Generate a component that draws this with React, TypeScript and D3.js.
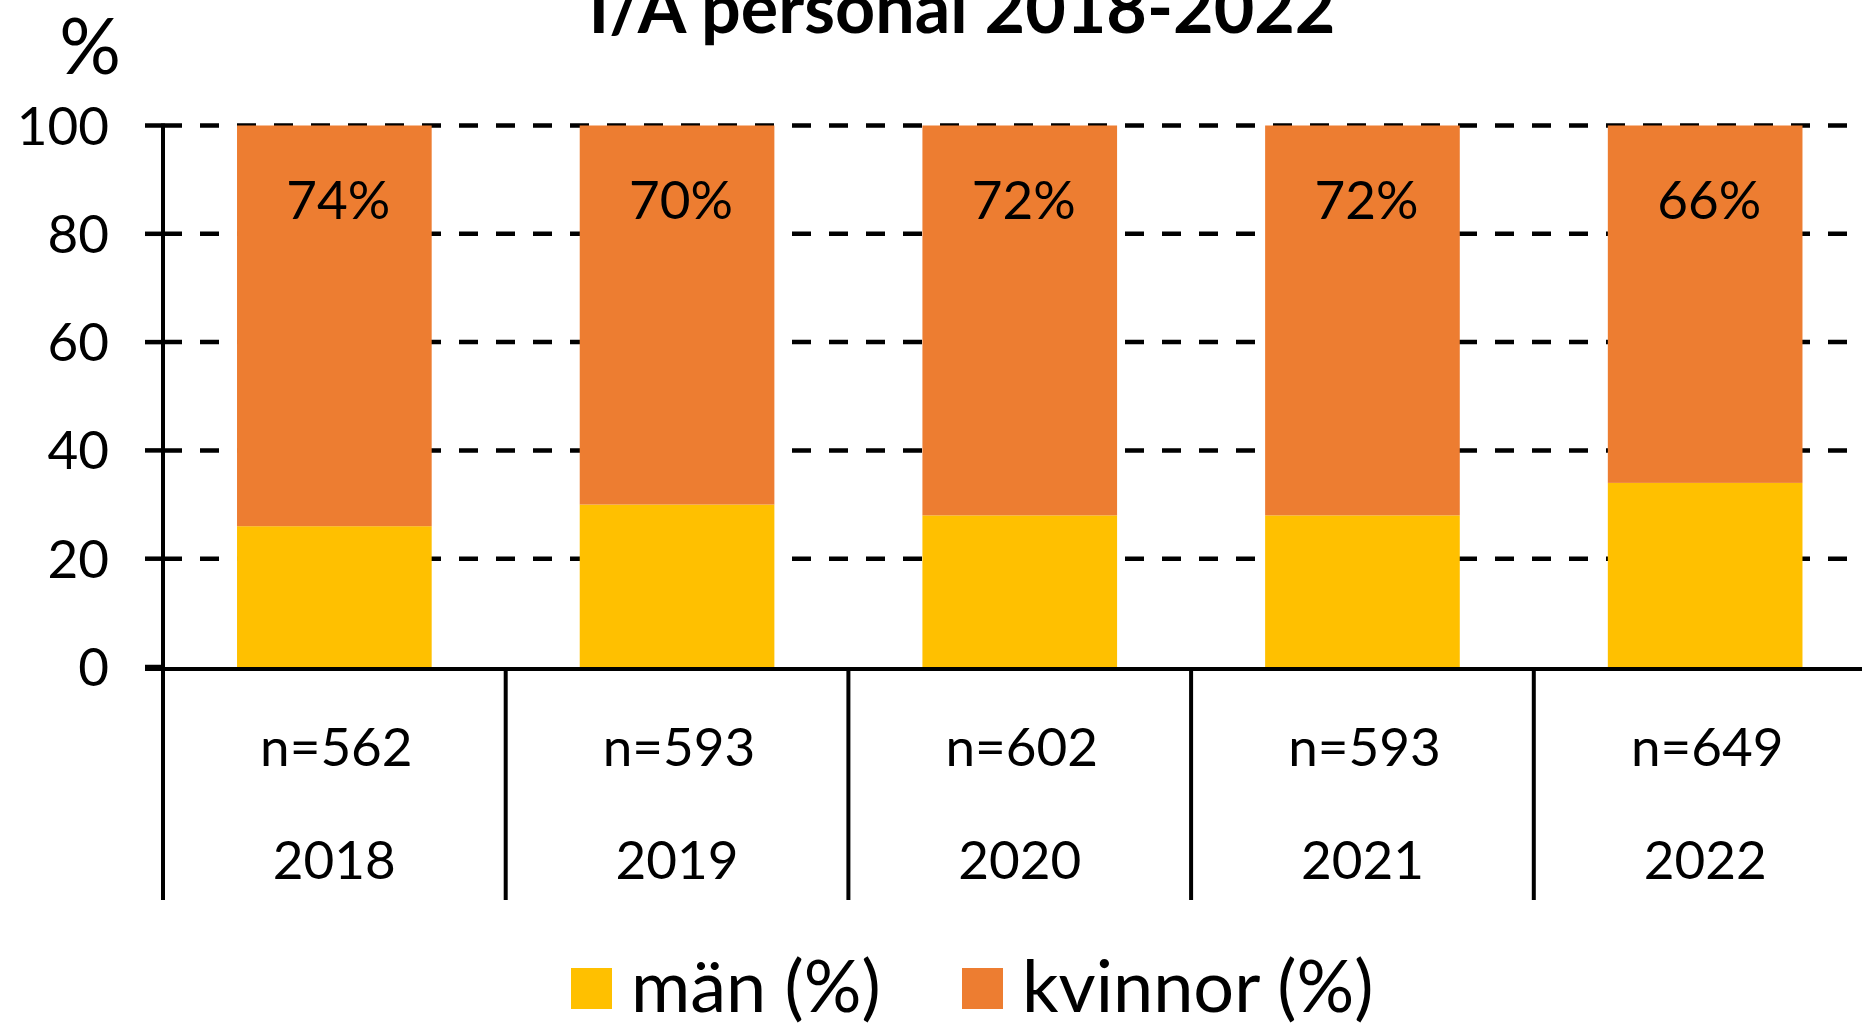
import React from "react";
import * as d3 from "d3";

const years = ["2018", "2019", "2020", "2021", "2022"];
const nLabels = ["n=562", "n=593", "n=602", "n=593", "n=649"];
const manValues = [26, 30, 28, 28, 34];
const kvinnorValues = [74, 70, 72, 72, 66];
const yTicks = [0, 20, 40, 60, 80, 100];
const seriesNames = ["män (%)", "kvinnor (%)"];
const seriesColors = ["#FFC000", "#ED7D31"];
const title = "I/A personal 2018-2022";

const W = 1862;
const H = 1025;
const FONT = "Lato, 'Open Sans', sans-serif";

export default function App() {
  const x0 = 163;
  const step = 342.7;
  const x = d3
    .scaleBand<string>()
    .domain(years)
    .range([x0, x0 + step * years.length])
    .paddingInner(0.432)
    .paddingOuter(0.216);
  const y = d3.scaleLinear().domain([0, 100]).range([667, 125.5]);

  const stack = d3
    .stack<number>()
    .keys(["man", "kvinnor"])
    .value((i, key) => (key === "man" ? manValues[i] : kvinnorValues[i]));
  const series = stack(years.map((_, i) => i));

  const bottom = 900;
  const bandStart = (yr: string) => (x(yr) as number) - x.step() * x.paddingInner() / 2;

  return (
    <svg
      width={W}
      height={H}
      style={{ position: "absolute", left: 0, top: 0, background: "#fff" }}
      fontFamily={FONT}
    >
      <rect x={0} y={0} width={W} height={H} fill="#fff" />
      {/* title */}
      <text x={962} y={33} textAnchor="middle" fontSize={70} fontWeight="bold" fill="#000">
        {title}
      </text>
      <text x={90} y={74} textAnchor="middle" fontSize={77} fill="#000">
        %
      </text>

      {/* gridlines */}
      {yTicks.filter((t) => t > 0).map((t) => (
        <line
          key={"g" + t}
          x1={x0}
          x2={W}
          y1={y(t)}
          y2={y(t)}
          stroke="#000"
          strokeWidth={4.5}
          strokeDasharray="19 18"
        />
      ))}

      {/* bars */}
      {series.map((s, si) =>
        s.map((d, i) => (
          <rect
            key={si + "-" + i}
            x={x(years[i])}
            width={x.bandwidth()}
            y={y(d[1])}
            height={y(d[0]) - y(d[1])}
            fill={seriesColors[si]}
          />
        ))
      )}

      {/* bar labels (kvinnor) */}
      {years.map((yr, i) => (
        <text
          key={"bl" + yr}
          x={(x(yr) as number) + x.bandwidth() / 2 + 4}
          y={y(100) + 93}
          textAnchor="middle"
          fontSize={53}
          fill="#000"
        >
          {kvinnorValues[i]}%
        </text>
      ))}

      {/* y axis */}
      <line x1={x0} x2={x0} y1={y(100) - 2} y2={bottom} stroke="#000" strokeWidth={4} />
      {yTicks.map((t) => (
        <g key={"t" + t}>
          <line x1={145} x2={x0} y1={y(t)} y2={y(t)} stroke="#000" strokeWidth={4.5} />
          <text x={109} y={y(t)} dy="0.36em" textAnchor="end" fontSize={53} fill="#000">
            {t}
          </text>
        </g>
      ))}

      {/* x axis */}
      <line x1={145} x2={W} y1={y(0) + 2} y2={y(0) + 2} stroke="#000" strokeWidth={4} />
      {years.map((yr, i) => (
        <g key={"x" + yr}>
          <line
            x1={bandStart(yr) + x.step()}
            x2={bandStart(yr) + x.step()}
            y1={y(0)}
            y2={bottom}
            stroke="#000"
            strokeWidth={4}
          />
          <text
            x={(x(yr) as number) + x.bandwidth() / 2 + 2}
            y={766}
            textAnchor="middle"
            fontSize={53}
            fill="#000"
          >
            {nLabels[i]}
          </text>
          <text
            x={(x(yr) as number) + x.bandwidth() / 2}
            y={879}
            textAnchor="middle"
            fontSize={53}
            fill="#000"
          >
            {yr}
          </text>
        </g>
      ))}

      {/* legend */}
      {seriesNames.map((name, i) => {
        const lx = [571, 962][i];
        return (
          <g key={"lg" + i}>
            <rect x={lx} y={968} width={41} height={41} fill={seriesColors[i]} />
            <text x={lx + 60} y={1012} fontSize={72} fill="#000">
              {name}
            </text>
          </g>
        );
      })}
    </svg>
  );
}
